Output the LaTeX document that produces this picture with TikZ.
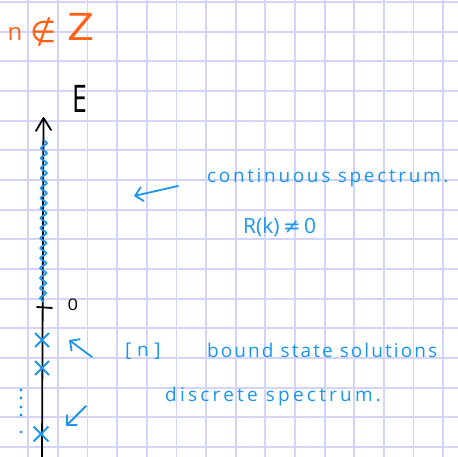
\documentclass[tikz,border=0pt]{standalone}
\usepackage{fontspec}
\setmainfont{Open Sans}
\newfontfamily\dv{DejaVu Sans}
\usetikzlibrary{arrows.meta,decorations.pathmorphing,shapes.misc}
\definecolor{gridc}{RGB}{212,212,250}
\definecolor{pen}{RGB}{28,150,240}
\definecolor{orng}{RGB}{255,98,22}
\tikzset{
  gridline/.style={gridc, line width=1.8pt},
  handtext/.style={text=pen, inner sep=0pt, anchor=base west, font=\fontsize{19}{19}\selectfont\addfontfeatures{LetterSpace=14}},
  penarrow/.style={pen, line width=1.8pt, line cap=round, -{Straight Barb[length=7pt, width=14pt, line cap=round]}},
  xmark/.style={draw=pen, cross out, line width=1.8pt, minimum size=12pt, inner sep=0pt},
}
\begin{document}
\begin{tikzpicture}[x=1pt, y=-1pt]
\useasboundingbox (0,0) rectangle (458,457);
\fill[white] (0,0) rectangle (458,457);
% grid
\foreach \i in {-1,...,15} \draw[gridline] ({28.2+29.64*\i},0) -- ++(0,457);
\foreach \j in {0,...,15} \draw[gridline] (0,{2+29.67*\j}) -- ++(458,0);
% n notin Z
\node[text=orng, inner sep=0pt, font=\fontsize{24}{24}\selectfont] (n) at (15,34) {n};
\node[text=orng, inner sep=0pt, font=\dv\fontsize{30}{30}\selectfont] (notin) at (44,32) {∉};
\node[text=orng, inner sep=0pt, font=\fontsize{38}{38}\selectfont] (Z) at (81,27) {\scalebox{1.25}[1]{Z}};
% axis
\coordinate (axbot) at (42,457);
\coordinate (axtop) at (43.5,118);
\draw[black, line width=1.8pt] (axbot) -- (axtop);
\draw[black, line width=1.8pt, line cap=round, line join=round] (36,131) -- (axtop) -- (51,130);
\node[inner sep=0pt, font=\fontsize{38}{38}\selectfont] (E) at (80,99) {\scalebox{0.7}[1]{E}};
% continuous spectrum squiggle
\draw[pen, line width=1.8pt, decorate, decoration={snake, segment length=10pt, amplitude=3pt}] (44,140) -- (43,302);
% tick at zero
\coordinate (tickL) at (37,307);
\coordinate (tickR) at (52,308);
\draw[black, line width=1.8pt, line cap=round] (tickL) -- (tickR);
\node[inner sep=0pt, font=\fontsize{16}{16}\selectfont] (zero) at (73,305) {\scalebox{1.15}[1]{0}};
% bound states
\node[xmark] (x1) at (42,340) {};
\node[xmark] (x2) at (42,368) {};
\node[xmark, minimum size=13pt] (x3) at (41,434) {};
\foreach \yy in {390,398,407,415,432} \fill[pen] (21,\yy) circle (1.6pt);
% labels
\node[handtext] (cont) at (207,183) {continuous spectrum.};
\node[text=pen, inner sep=0pt, anchor=base west, font=\fontsize{21}{21}\selectfont] (Rk) at (243,234) {R(k)\,{\dv ≠}\,0};
\node[handtext, font=\fontsize{19}{19}\selectfont\addfontfeatures{LetterSpace=30}] (nbr) at (125,356) {[n]};
\node[handtext, font=\fontsize{19}{19}\selectfont\addfontfeatures{LetterSpace=11}] (bound) at (207,357) {bound state solutions};
\node[handtext, font=\fontsize{19}{19}\selectfont\addfontfeatures{LetterSpace=17}] (disc) at (165,401) {discrete spectrum.};
% arrows
\coordinate (a1s) at (178,186);
\coordinate (a1e) at (134,196);
\draw[penarrow] (a1s) -- (a1e);
\coordinate (a2s) at (92,357);
\coordinate (a2e) at (69,340);
\draw[penarrow] (a2s) -- (a2e);
\coordinate (a3s) at (86,406);
\coordinate (a3e) at (66,426);
\draw[penarrow] (a3s) -- (a3e);
\end{tikzpicture}
\end{document}
